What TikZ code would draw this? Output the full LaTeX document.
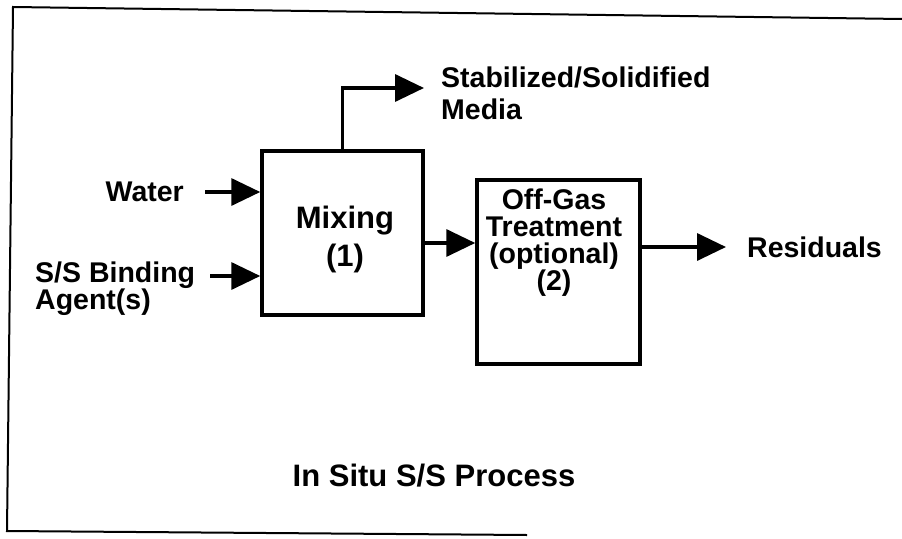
\documentclass[tikz,border=0pt]{standalone}
\usepackage{fontspec}
\setmainfont{Liberation Sans}
\usetikzlibrary{arrows.meta}
\begin{document}
\begin{tikzpicture}[x=1pt,y=-1pt,
  procbox/.style={draw, line width=3.5pt, minimum width=#1, inner sep=0pt},
  lbl/.style={font=\bfseries\fontsize{28.5}{27}\selectfont, inner sep=0pt, align=center},
  biglbl/.style={font=\bfseries\fontsize{31}{38}\selectfont, inner sep=0pt, align=center},
  flow/.style={line width=3.5pt, -{Triangle[length=29pt,width=27pt]}},
  frame/.style={line width=2pt}]
\useasboundingbox (0,0) rectangle (902,538);

% outer frame (open on the right)
\coordinate (ftl) at (13,7);
\coordinate (ftr) at (902,19);
\coordinate (fbl) at (7,531);
\coordinate (fbr) at (527,535);
\draw[frame] (ftr) -- (ftl) -- (fbl) -- (fbr);

% process boxes
\node[procbox=161pt, minimum height=164pt] (mix) at (342.5,233) {};
\node[procbox=163pt, minimum height=184pt] (off) at (558.5,272) {};

\node[biglbl] (mixtxt) at (345,239) {Mixing\\(1)};
\node[lbl] (offtxt) at (554,243) {Off-Gas\\Treatment\\(optional)\\(2)};

% inputs
\node[lbl, anchor=east] (water) at (184,192) {Water};
\node[lbl, anchor=west, align=left] (agent) at (35,289) {S/S Binding\\Agent(s)};
\coordinate (win) at (205,192);
\coordinate (ain) at (210,276);
\draw[flow] (win) -- (win -| mix.west);
\draw[flow] (ain) -- (ain -| mix.west);

% solidified product leaving the top of the mixer
\coordinate (stab) at (424,88);
\draw[flow] (mix.north) |- (stab);
\node[lbl, anchor=west, align=left, font=\bfseries\fontsize{28.5}{32}\selectfont] (stabtxt) at (441,93) {Stabilized/Solidified\\Media};

% mixer to off-gas treatment
\coordinate (m2o) at (0,243);
\draw[flow] (mix.east |- m2o) -- (off.west |- m2o);

% residuals
\coordinate (res) at (726,247);
\draw[flow] (off.east |- res) -- (res);
\node[lbl, anchor=west] (restxt) at (747,247) {Residuals};

% caption
\node[biglbl] (title) at (434,476) {In Situ S/S Process};
\end{tikzpicture}
\end{document}
